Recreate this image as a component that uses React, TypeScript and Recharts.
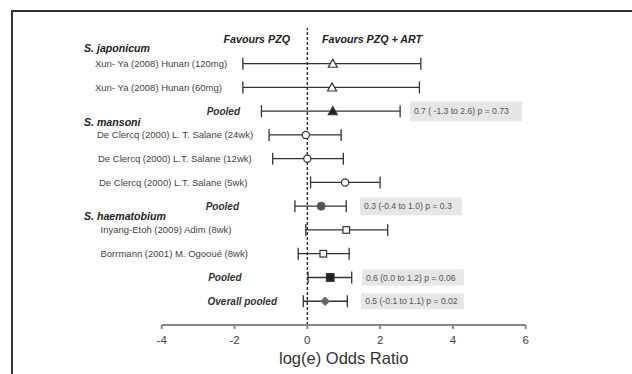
import React from 'react';
import {
  ScatterChart,
  Scatter,
  XAxis,
  YAxis,
  ErrorBar,
  ReferenceLine,
  ReferenceArea,
  Label,
} from 'recharts';

// Forest plot rows (top to bottom)
const rowLabels = [
  'Xun- Ya (2008) Hunan (120mg)',
  'Xun- Ya (2008) Hunan (60mg)',
  'Pooled',
  'De Clercq (2000) L. T. Salane (24wk)',
  'De Clercq (2000) L.T. Salane (12wk)',
  'De Clercq (2000) L.T. Salane (5wk)',
  'Pooled',
  'Inyang-Etoh (2009) Adim (8wk)',
  'Borrmann (2001) M. Ogooué (8wk)',
  'Pooled',
  'Overall pooled',
];
const estimates = [0.7, 0.68, 0.7, -0.04, 0.0, 1.04, 0.38, 1.07, 0.44, 0.63, 0.49];
const lowerCI = [-1.77, -1.77, -1.26, -1.05, -0.95, 0.09, -0.34, -0.04, -0.25, 0.02, -0.11];
const upperCI = [3.12, 3.08, 2.55, 0.93, 0.99, 2.0, 1.07, 2.21, 1.15, 1.22, 1.1];
const markers = [
  'triangle-open', 'triangle-open', 'triangle',
  'circle-open', 'circle-open', 'circle-open', 'circle',
  'square-open', 'square-open', 'square',
  'diamond',
];

const groupLabels = ['S. japonicum', 'S. mansoni', 'S. haematobium'];
const groupRows = [-0.66, 2.46, 6.41];

const summaryLabels = [
  '0.7 ( -1.3 to 2.6) p = 0.73',
  '0.3 (-0.4 to 1.0) p = 0.3',
  '0.6 (0.0 to 1.2) p = 0.06',
  '0.5 (-0.1 to 1.1) p = 0.02',
];
const summaryRows = [2, 6, 9, 10];

const xTicks = [-4, -2, 0, 2, 4, 6];
const headerRow = -1.04;

// layout / styling (not data)
const FONT = '"Liberation Sans", Arial, Helvetica, sans-serif';
const labelX = [95, 95, 240, 97, 98, 99, 239, 100.5, 100.5, 241.5, 277];
const boxSpans = [
  { x1: 2.82, x2: 5.9, h: 0.42 },
  { x1: 1.45, x2: 4.25, h: 0.38 },
  { x1: 1.5, x2: 4.3, h: 0.34 },
  { x1: 1.48, x2: 4.3, h: 0.34 },
];

const data = rowLabels.map((name, i) => ({
  name,
  row: i,
  est: estimates[i],
  ci: [estimates[i] - lowerCI[i], upperCI[i] - estimates[i]],
  marker: markers[i],
}));

const yTicks = [headerRow, ...groupRows, ...rowLabels.map((_, i) => i)];

const near = (a: number, b: number) => Math.abs(a - b) < 1e-6;

const RowTick = (props: any) => {
  const { y, payload } = props;
  const v = payload.value;
  if (near(v, headerRow)) {
    return (
      <g fontFamily={FONT} fontWeight="bold" fontStyle="italic" fontSize={10.7} fill="#222">
        <text x={290} y={y} dy="0.35em" textAnchor="end">Favours PZQ</text>
        <text x={322} y={y} dy="0.35em" textAnchor="start">Favours PZQ + ART</text>
      </g>
    );
  }
  const g = groupRows.findIndex((r) => near(r, v));
  if (g >= 0) {
    return (
      <text x={84} y={y} dy="0.35em" fontFamily={FONT} fontWeight="bold" fontStyle="italic" fontSize={10.6} fill="#222">
        {groupLabels[g]}
      </text>
    );
  }
  const i = Math.round(v);
  const pooled = rowLabels[i].toLowerCase().includes('pooled');
  return (
    <text
      x={labelX[i]}
      y={y}
      dy="0.35em"
      textAnchor={pooled ? 'end' : 'start'}
      fontFamily={FONT}
      fontSize={pooled ? 10 : 9.5}
      fontWeight={pooled ? 'bold' : 'normal'}
      fontStyle={pooled ? 'italic' : 'normal'}
      fill={pooled ? '#333' : '#444'}
    >
      {rowLabels[i]}
    </text>
  );
};

const MarkerShape = (props: any) => {
  const { cx, cy, payload } = props;
  const m = payload.marker;
  const stroke = '#333';
  if (m === 'triangle-open' || m === 'triangle') {
    const s = 4.5;
    const pts = `${cx},${cy - s} ${cx + s},${cy + s * 0.8} ${cx - s},${cy + s * 0.8}`;
    return <polygon points={pts} fill={m === 'triangle' ? '#222' : '#fff'} stroke={stroke} strokeWidth={1.2} />;
  }
  if (m === 'circle-open') {
    return <circle cx={cx} cy={cy} r={3.6} fill="#fff" stroke={stroke} strokeWidth={1.2} />;
  }
  if (m === 'circle') {
    return <circle cx={cx} cy={cy} r={4} fill="#555" stroke="#555" />;
  }
  if (m === 'square-open' || m === 'square') {
    const s = m === 'square' ? 3.8 : 3.3;
    return (
      <rect x={cx - s} y={cy - s} width={s * 2} height={s * 2}
        fill={m === 'square' ? '#222' : '#fff'} stroke={stroke} strokeWidth={1.2} />
    );
  }
  const d = 4.3;
  return <polygon points={`${cx},${cy - d} ${cx + d},${cy} ${cx},${cy + d} ${cx - d},${cy}`} fill="#666" stroke="#666" />;
};

export default function App() {
  return (
    <div style={{ position: 'absolute', left: 0, top: 0, width: 632, height: 374, background: '#fff', overflow: 'hidden' }}>
      <div
        style={{
          position: 'absolute', left: 11, top: 10, width: 640, height: 400,
          borderTop: '2px solid #333', borderLeft: '2px solid #333',
        }}
      />
      <div style={{ position: 'absolute', left: 0, top: 0 }}>
        <ScatterChart width={632} height={374} margin={{ top: 28, right: 106.3, bottom: 19, left: 151.7 }}>
          <XAxis
            type="number"
            dataKey="est"
            domain={[-4, 6]}
            ticks={xTicks}
            allowDataOverflow
            height={30}
            stroke="#888"
            strokeWidth={2}
            tickSize={4}
            tickMargin={7}
            tick={{ fill: '#444', fontSize: 11.5, fontFamily: FONT }}
          >
            <Label value="log(e) Odds Ratio" position="bottom" offset={-3} fill="#333" fontSize={16.5} fontFamily={FONT} />
          </XAxis>
          <YAxis
            type="number"
            dataKey="row"
            domain={[-1.5, 11]}
            reversed
            allowDataOverflow
            ticks={yTicks}
            interval={0}
            width={10}
            axisLine={false}
            tickLine={false}
            tick={(p: any) => <RowTick {...p} />}
          />
          {summaryLabels.map((s, i) => (
            <ReferenceArea
              key={s}
              x1={boxSpans[i].x1}
              x2={boxSpans[i].x2}
              y1={summaryRows[i] - boxSpans[i].h}
              y2={summaryRows[i] + boxSpans[i].h}
              fill="#e6e6e6"
              fillOpacity={1}
              stroke="none"
              label={{ value: s, position: 'insideLeft', offset: 4, fill: '#555', fontSize: 8.6, fontFamily: FONT }}
            />
          ))}
          <ReferenceLine x={0} stroke="#222" strokeWidth={1.3} strokeDasharray="3 2" />
          <Scatter data={data} shape={<MarkerShape />} isAnimationActive={false}>
            <ErrorBar dataKey="ci" direction="x" width={6} stroke="#333" strokeWidth={1.3} />
          </Scatter>
        </ScatterChart>
      </div>
    </div>
  );
}
